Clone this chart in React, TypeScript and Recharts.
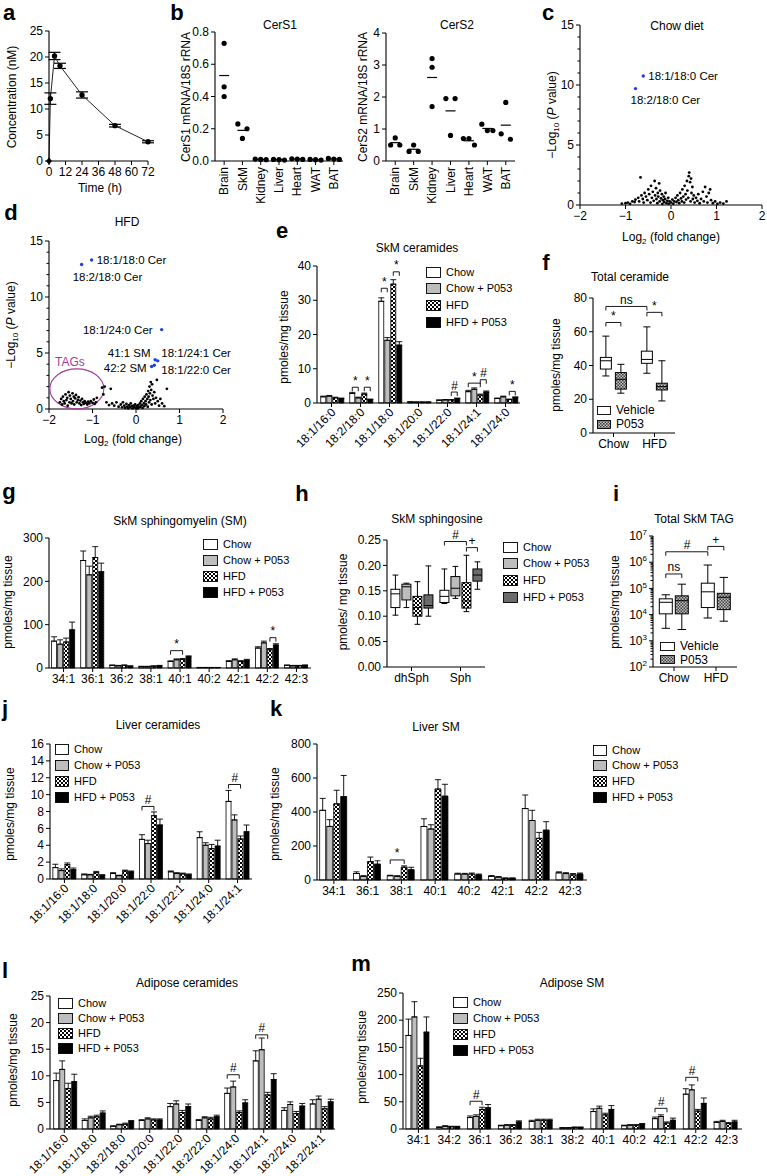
import React from 'react';
import { BarChart, Bar, ErrorBar, LineChart, Line, ScatterChart, Scatter, XAxis, YAxis } from 'recharts';

const FONT = '"Liberation Sans", Arial, Helvetica, sans-serif';
const INK = '#000';
const BLUE = '#1f3fdc';
const PURPLE = '#a03c9c';

// a - plasma level after one dose
const pkHours = [0, 1, 4, 8, 24, 48, 72];
const pkConc = [0, 12, 20.2, 18.3, 12.7, 6.8, 3.7];
const pkSem = [0, 1.1, 0.7, 0.5, 0.6, 0.25, 0.2];

// b - CerS expression, three mice per tissue
const tissues = ['Brain', 'SkM', 'Kidney', 'Liver', 'Heart', 'WAT', 'BAT'];
const cers1Mice = [
  [0.73, 0.46, 0.4], [0.23, 0.2, 0.14], [0.012, 0.008, 0.01], [0.01, 0.008, 0.006],
  [0.014, 0.01, 0.012], [0.008, 0.006, 0.01], [0.016, 0.012, 0.01],
];
const cers2Mice = [
  [0.72, 0.5, 0.5], [0.5, 0.3, 0.3], [3.2, 2.93, 1.7], [1.95, 1.95, 0.8],
  [0.7, 0.7, 0.5], [1.15, 0.95, 0.95], [1.83, 0.85, 0.68],
];

// c / d - volcano plots [log2 fold change, -log10 p]
const chowCloud = [
  [-1.08, 0.12], [-1.0, 0.15], [-0.95, 0.2], [-0.9, 0.1], [-0.85, 0.3], [-0.8, 0.25], [-0.78, 0.45], [-0.72, 0.6],
  [-0.7, 0.3], [-0.67, 2.3], [-0.65, 0.8], [-0.62, 0.5], [-0.6, 0.2], [-0.58, 1.0], [-0.55, 0.7], [-0.52, 0.4],
  [-0.5, 1.3], [-0.48, 0.9], [-0.45, 0.2], [-0.44, 1.6], [-0.42, 0.6], [-0.4, 1.1], [-0.38, 0.35], [-0.36, 2.0],
  [-0.35, 0.8], [-0.33, 1.4], [-0.32, 0.5], [-0.3, 0.15], [-0.29, 1.0], [-0.28, 0.7], [-0.26, 1.8], [-0.25, 0.3],
  [-0.24, 1.2], [-0.22, 0.55], [-0.2, 0.9], [-0.19, 0.1], [-0.18, 0.4], [-0.16, 0.7], [-0.15, 0.25], [-0.13, 0.5],
  [-0.12, 1.0], [-0.1, 0.15], [-0.08, 0.35], [-0.06, 0.6], [-0.05, 0.1], [-0.03, 0.3], [0, 0.2], [0.03, 0.45],
  [0.05, 0.1], [0.07, 0.3], [0.1, 0.6], [0.12, 0.25], [0.14, 0.8], [0.16, 0.4], [0.18, 0.15], [0.2, 1.0],
  [0.22, 0.55], [0.24, 0.3], [0.25, 1.3], [0.27, 0.7], [0.29, 0.2], [0.3, 1.6], [0.32, 0.9], [0.33, 0.45],
  [0.35, 2.0], [0.36, 1.2], [0.38, 0.6], [0.39, 2.4], [0.4, 2.7], [0.42, 1.9], [0.43, 0.3], [0.44, 2.2],
  [0.45, 1.0], [0.47, 1.5], [0.48, 0.5], [0.5, 0.8], [0.52, 0.2], [0.55, 0.6], [0.58, 0.35], [0.6, 0.9],
  [0.63, 0.15], [0.66, 0.5], [0.7, 1.1], [0.72, 0.3], [0.75, 1.5], [0.78, 0.7], [0.8, 0.2], [0.83, 1.0],
  [0.86, 1.3], [0.88, 0.4], [0.92, 0.15], [0.97, 0.3], [1.02, 0.1], [1.08, 0.2], [1.15, 0.12], [1.22, 0.3],
];
const chowHits = [
  { x: -0.61, y: 10.75, label: '18:1/18:0 Cer' },
  { x: -0.78, y: 9.7, label: '18:2/18:0 Cer' },
];
const hfdCloud = [
  [-1.75, 0.6], [-1.72, 0.9], [-1.7, 0.4], [-1.68, 1.1], [-1.66, 0.7], [-1.64, 0.5], [-1.62, 1.3], [-1.6, 0.8],
  [-1.58, 1.0], [-1.57, 0.3], [-1.55, 1.5], [-1.53, 0.6], [-1.52, 1.2], [-1.5, 0.9], [-1.48, 0.5], [-1.46, 1.4],
  [-1.45, 0.7], [-1.43, 1.1], [-1.42, 0.4], [-1.4, 0.95], [-1.38, 1.25], [-1.36, 0.6], [-1.34, 0.8], [-1.32, 1.05],
  [-1.3, 0.5], [-1.28, 0.75], [-1.26, 0.35], [-1.24, 0.9], [-1.22, 0.6], [-1.2, 0.45], [-1.18, 0.7], [-1.15, 0.55],
  [-1.12, 0.4], [-1.1, 0.65], [-1.07, 0.5], [-1.04, 0.7], [-1.0, 0.55], [-0.97, 0.85], [-0.95, 0.45], [-0.92, 0.6],
  [-0.9, 1.0], [-0.78, 1.9], [-0.75, 1.3], [-0.72, 2.0], [-0.68, 0.6], [-0.62, 0.35], [-0.58, 1.8], [-0.55, 0.5],
  [-0.5, 0.3], [-0.45, 0.6], [-0.4, 0.2], [-0.35, 0.4], [-0.32, 0.15], [-0.3, 0.6], [-0.27, 0.3], [-0.25, 0.1],
  [-0.22, 0.45], [-0.2, 0.2], [-0.18, 0.05], [-0.16, 0.35], [-0.14, 0.15], [-0.12, 0.5], [-0.1, 0.25], [-0.08, 0.05],
  [-0.06, 0.3], [-0.04, 0.15], [-0.02, 0.4], [0, 0.1], [0.02, 0.25], [0.04, 0.05], [0.05, 0.35], [0.07, 0.15],
  [0.09, 0.5], [0.1, 0.2], [0.12, 0.7], [0.13, 0.35], [0.15, 0.1], [0.16, 0.9], [0.18, 0.5], [0.19, 0.25],
  [0.2, 1.1], [0.22, 0.7], [0.23, 0.4], [0.24, 1.3], [0.26, 0.9], [0.27, 0.2], [0.28, 1.6], [0.29, 1.1],
  [0.3, 0.6], [0.31, 2.0], [0.32, 1.4], [0.33, 0.8], [0.34, 2.4], [0.35, 1.7], [0.36, 0.4], [0.37, 2.2],
  [0.38, 1.2], [0.4, 0.9], [0.42, 1.5], [0.44, 0.5], [0.46, 1.0], [0.48, 2.6], [0.5, 0.7], [0.53, 0.3],
  [0.56, 0.9], [0.6, 0.5], [0.65, 0.25], [0.71, 1.8],
];
const hfdHits = [
  { x: -1.02, y: 13.3, label: '18:1/18:0 Cer' },
  { x: -1.25, y: 12.9, label: '18:2/18:0 Cer' },
  { x: 0.59, y: 7.09, label: '18:1/24:0 Cer' },
  { x: 0.44, y: 4.4, label: '41:1 SM' },
  { x: 0.5, y: 4.3, label: '18:1/24:1 Cer' },
  { x: 0.36, y: 3.8, label: '42:2 SM' },
  { x: 0.42, y: 3.9, label: '18:1/22:0 Cer' },
];
const tagCluster = [{ x: -1.36, y: 1.8 }];

// groups used in e, g, h, j-m
const groupNames = ['Chow', 'Chow + P053', 'HFD', 'HFD + P053'];

// e - SkM ceramides
const eCats = ['18:1/16:0', '18:2/18:0', '18:1/18:0', '18:1/20:0', '18:1/22:0', '18:1/24:1', '18:1/24:0'];
const eMean = [
  [1.8, 2.8, 29.7, 0.3, 0.8, 3.3, 1.3],
  [2.0, 1.5, 18.3, 0.25, 0.9, 4.0, 1.8],
  [1.5, 2.6, 34.7, 0.25, 0.9, 2.3, 1.0],
  [1.3, 1.0, 16.9, 0.25, 1.3, 3.2, 1.6],
];
const eSem = [
  [0.2, 0.3, 1.0, 0.05, 0.1, 0.4, 0.15],
  [0.2, 0.2, 0.8, 0.05, 0.1, 0.4, 0.2],
  [0.2, 0.3, 1.3, 0.05, 0.1, 0.3, 0.15],
  [0.15, 0.15, 1.0, 0.05, 0.15, 0.3, 0.2],
];
const eSig = [
  { cat: '18:2/18:0', a: 0, b: 1, at: 4.6, mark: '*' },
  { cat: '18:2/18:0', a: 2, b: 3, at: 4.6, mark: '*' },
  { cat: '18:1/18:0', a: 0, b: 1, at: 33.5, mark: '*' },
  { cat: '18:1/18:0', a: 2, b: 3, at: 38.3, mark: '*' },
  { cat: '18:1/22:0', a: 2, b: 3, at: 3.2, mark: '#' },
  { cat: '18:1/24:1', a: 0, b: 2, at: 5.8, mark: '*' },
  { cat: '18:1/24:1', a: 2, b: 3, at: 6.8, mark: '#' },
  { cat: '18:1/24:0', a: 2, b: 3, at: 3.4, mark: '*' },
];

// f - total ceramide, boxes [min, q1, median, q3, max]
const fCats = ['Chow', 'HFD'];
const fBoxes = [
  [[33.8, 37.9, 42.8, 44.8, 57.4], [35.4, 41.3, 43.6, 48.5, 62.9]],
  [[23.6, 26, 31.8, 35.8, 40.7], [19, 25.5, 27.5, 29.5, 42.8]],
];
const fSig = [
  { cat: 'Chow', a: 0, b: 0, catB: 'HFD', at: 75, mark: 'ns' },
  { cat: 'Chow', a: 0, b: 1, at: 65.5, mark: '*' },
  { cat: 'HFD', a: 0, b: 1, at: 71.5, mark: '*' },
];

// g - SkM sphingomyelin
const gCats = ['34:1', '36:1', '36:2', '38:1', '40:1', '40:2', '42:1', '42:2', '42:3'];
const gMean = [
  [62, 248, 6, 3, 15, 1, 15, 46, 6],
  [55, 215, 5, 3, 19, 1, 19, 58, 5],
  [60, 255, 6, 4, 20, 1, 15, 42, 5],
  [88, 222, 4, 5, 26, 1, 18, 53, 6],
];
const gSem = [
  [10, 22, 1, 1, 1.5, 0.3, 2, 3, 1],
  [10, 20, 1, 1, 2, 0.3, 2, 4, 1],
  [9, 25, 1, 1, 2, 0.3, 2, 3, 1],
  [18, 20, 1, 1, 2, 0.3, 2, 3, 1],
];
const gSig = [
  { cat: '40:1', a: 0, b: 2, at: 40, mark: '*' },
  { cat: '42:2', a: 2, b: 3, at: 70, mark: '*' },
];

// h - SkM sphingosine
const hCats = ['dhSph', 'Sph'];
const hBoxes = [
  [[0.102, 0.117, 0.144, 0.153, 0.181], [0.125, 0.127, 0.139, 0.151, 0.193]],
  [[0.117, 0.132, 0.158, 0.163, 0.165], [0.135, 0.14, 0.155, 0.178, 0.198]],
  [[0.084, 0.1, 0.117, 0.139, 0.168], [0.109, 0.116, 0.13, 0.166, 0.22]],
  [[0.1, 0.116, 0.121, 0.142, 0.199], [0.153, 0.169, 0.181, 0.193, 0.207]],
];
const hSig = [
  { cat: 'Sph', a: 0, b: 2, at: 0.247, mark: '#' },
  { cat: 'Sph', a: 2, b: 3, at: 0.235, mark: '+' },
];

// i - total SkM TAG (pmoles/mg)
const iCats = ['Chow', 'HFD'];
const iBoxes = [
  [[3000, 10700, 29500, 40000, 57000], [7400, 18600, 74000, 158000, 780000]],
  [[2700, 10700, 34000, 52000, 145000], [5600, 15500, 46000, 65000, 263000]],
];
const iSig = [
  { cat: 'Chow', a: 0, b: 1, at: 355000, mark: 'ns' },
  { cat: 'Chow', a: 0, b: 0, catB: 'HFD', at: 2500000, mark: '#' },
  { cat: 'HFD', a: 0, b: 1, at: 4000000, mark: '+' },
];
const iDecades = [2, 3, 4, 5, 6, 7];

// j - liver ceramides
const jCats = ['18:1/16:0', '18:1/18:0', '18:1/20:0', '18:1/22:0', '18:1/22:1', '18:1/24:0', '18:1/24:1'];
const jMean = [
  [1.35, 0.5, 0.65, 4.7, 0.85, 4.9, 9.2],
  [1.0, 0.5, 0.4, 4.2, 0.65, 4.0, 7.0],
  [1.7, 0.75, 0.95, 7.5, 0.6, 3.6, 4.75],
  [1.1, 0.45, 0.85, 6.4, 0.5, 3.9, 5.6],
];
const jSem = [
  [0.4, 0.1, 0.1, 0.55, 0.1, 0.7, 1.3],
  [0.2, 0.05, 0.05, 0.4, 0.1, 0.3, 0.6],
  [0.2, 0.15, 0.1, 0.45, 0.1, 0.5, 0.35],
  [0.2, 0.05, 0.1, 0.7, 0.1, 0.7, 0.8],
];
const jSig = [
  { cat: '18:1/22:0', a: 0, b: 2, at: 8.6, mark: '#' },
  { cat: '18:1/24:1', a: 0, b: 2, at: 11.2, mark: '#' },
];

// k - liver SM
const kCats = ['34:1', '36:1', '38:1', '40:1', '40:2', '42:1', '42:2', '42:3'];
const kMean = [
  [410, 38, 25, 315, 35, 22, 420, 42],
  [315, 22, 22, 300, 35, 17, 350, 38],
  [448, 108, 75, 535, 35, 10, 245, 30],
  [490, 93, 60, 493, 30, 10, 293, 35],
];
const kSem = [
  [70, 10, 3, 45, 5, 4, 80, 6],
  [40, 3, 3, 25, 4, 3, 60, 5],
  [80, 27, 8, 55, 6, 2, 35, 8],
  [125, 20, 15, 70, 5, 2, 50, 6],
];
const kSig = [{ cat: '38:1', a: 0, b: 2, at: 118, mark: '*' }];

// l - adipose ceramides
const lCats = ['18:1/16:0', '18:1/18:0', '18:2/18:0', '18:1/20:0', '18:1/22:0', '18:2/22:0', '18:1/24:0', '18:1/24:1', '18:2/24:0', '18:2/24:1'];
const lMean = [
  [9.1, 1.6, 0.5, 1.6, 4.2, 1.6, 6.7, 12.8, 3.5, 4.7],
  [11.2, 2.1, 0.8, 1.9, 4.7, 2.1, 7.9, 14.9, 4.6, 5.6],
  [7.6, 2.3, 0.9, 1.7, 3.1, 1.9, 3.1, 6.4, 2.9, 3.8],
  [8.9, 3.0, 1.4, 1.7, 4.2, 2.3, 4.9, 9.3, 4.3, 5.1],
];
const lSem = [
  [1.4, 0.3, 0.1, 0.15, 0.6, 0.2, 1.0, 1.9, 0.5, 0.8],
  [1.6, 0.3, 0.1, 0.2, 0.6, 0.2, 1.1, 2.2, 0.5, 0.6],
  [1.0, 0.3, 0.2, 0.2, 0.4, 0.3, 0.3, 0.5, 0.4, 0.4],
  [1.4, 0.4, 0.2, 0.2, 0.5, 0.3, 0.6, 1.1, 0.5, 0.5],
];
const lSig = [
  { cat: '18:1/24:0', a: 0, b: 2, at: 10.2, mark: '#' },
  { cat: '18:1/24:1', a: 0, b: 2, at: 17.7, mark: '#' },
];

// m - adipose SM
const mCats = ['34:1', '34:2', '36:1', '36:2', '38:1', '38:2', '40:1', '40:2', '42:1', '42:2', '42:3'];
const mMean = [
  [172, 3, 21, 6, 14, 2, 32, 6, 19, 64, 12],
  [206, 5, 23, 7, 16, 2, 38, 7, 23, 72, 14],
  [116, 4, 36, 7, 16, 3, 26, 7, 11, 33, 10],
  [178, 4, 39, 13, 16, 3, 36, 9, 16, 47, 13],
];
const mSem = [
  [30, 1, 3, 1, 2, 0.5, 5, 1, 3, 10, 2],
  [28, 1, 3, 1, 2, 0.5, 4, 1, 3, 9, 2],
  [14, 1, 4, 1, 2, 0.5, 3, 1, 2, 3, 2],
  [28, 1, 6, 2, 2, 0.5, 7, 1, 4, 10, 3],
];
const mSig = [
  { cat: '36:1', a: 0, b: 2, at: 51, mark: '#' },
  { cat: '42:1', a: 0, b: 2, at: 38, mark: '#' },
  { cat: '42:2', a: 0, b: 2, at: 95, mark: '#' },
];

// ---------- styling helpers ----------
const AX = { stroke: INK, strokeWidth: 1.1 };
const TXT = { fontFamily: FONT, fontSize: 12, fill: INK };
const BAR_FILL = ['#fff', '#bdbdbd', 'url(#chk)', '#000'];
const noTick = { tickSize: 0, tickMargin: 0, tickLine: false, axisLine: AX, interval: 0 as const };

const yTick = (fmt?: (v: number) => any, isMajor?: (v: number) => boolean) => (p: any) => {
  const v = p.payload.value;
  const major = isMajor ? isMajor(v) : true;
  return (
    <g>
      <line x1={p.x - (major ? 4 : 2.5)} x2={p.x} y1={p.y} y2={p.y} stroke={INK} strokeWidth={1} />
      {major && (
        <text x={p.x - 6} y={p.y} dy="0.35em" textAnchor="end" {...TXT}>{fmt ? fmt(v) : v}</text>
      )}
    </g>
  );
};

const xTick = (mode: 'flat' | 'slant' | 'up', fmt?: (v: any) => any) => (p: any) => {
  const { x, y } = p;
  const s = fmt ? fmt(p.payload.value) : p.payload.value;
  let label;
  if (mode === 'slant') {
    label = <text x={x + 2} y={y + 7} dy="0.35em" textAnchor="end" transform={`rotate(-45 ${x + 2} ${y + 7})`} {...TXT}>{s}</text>;
  } else if (mode === 'up') {
    label = <text x={x} y={y + 6} dy="0.35em" textAnchor="end" transform={`rotate(-90 ${x} ${y + 6})`} {...TXT}>{s}</text>;
  } else {
    label = <text x={x} y={y + 15} textAnchor="middle" {...TXT}>{s}</text>;
  }
  return (
    <g>
      <line x1={x} x2={x} y1={y} y2={y + 4} stroke={INK} strokeWidth={1} />
      {label}
    </g>
  );
};

const minus = (v: number) => (v < 0 ? `\u2212${-v}` : `${v}`);

function sigMark(s: any, i: number, x0: number, w: number, gap: number, band: number, cats: string[], P: (v: number) => number) {
  const xa = x0 + s.a * (w + gap) + w / 2;
  const shift = s.catB ? (cats.indexOf(s.catB) - cats.indexOf(s.cat)) * band : 0;
  const xb = x0 + s.b * (w + gap) + w / 2 + shift;
  const yl = P(s.at);
  return (
    <g key={`sig${i}`}>
      <path d={`M${xa},${yl + 4}V${yl}H${xb}V${yl + 4}`} fill="none" stroke={INK} strokeWidth={0.9} />
      <text x={(xa + xb) / 2} y={yl - 2.5} textAnchor="middle" fontSize={12} fontFamily={FONT}
        fontStyle={s.mark === '#' ? 'italic' : 'normal'}>{s.mark}</text>
    </g>
  );
}

// ---------- page text ----------
const Label = ({ x, y, rot, size = 12, bold, color, children }: any) => (
  <div style={{
    position: 'absolute', left: x, top: y, fontSize: size, lineHeight: 1, whiteSpace: 'nowrap',
    fontWeight: bold ? 700 : 400, color: color || INK,
    transform: `translate(-50%, -50%)${rot ? ' rotate(-90deg)' : ''}`,
  }}>{children}</div>
);

const Letter = ({ x, y, children }: any) => <Label x={x} y={y} size={22} bold>{children}</Label>;

const Key = ({ x, y, labels, fills, step = 16.5, w = 15, h = 11, size = 11 }: any) => (
  <>
    {labels.map((lab: string, i: number) => (
      <div key={lab} style={{
        position: 'absolute', left: x, top: y + i * step - h / 2, height: h, display: 'flex',
        alignItems: 'center', whiteSpace: 'nowrap', fontSize: size, lineHeight: 1,
      }}>
        <svg width={w} height={h} style={{ marginRight: 5, flex: 'none' }}>
          <rect x={0.5} y={0.5} width={w - 1} height={h - 1} fill={fills[i]} stroke={INK} strokeWidth={0.9} />
        </svg>
        <span>{lab}</span>
      </div>
    ))}
  </>
);

const Patterns = () => (
  <svg width={0} height={0} style={{ position: 'absolute' }}>
    <defs>
      <pattern id="chk" width={4} height={4} patternUnits="userSpaceOnUse">
        <rect width={4} height={4} fill="#fff" />
        <rect width={2} height={2} fill="#000" />
        <rect x={2} y={2} width={2} height={2} fill="#000" />
      </pattern>
      <pattern id="chk2" width={3} height={3} patternUnits="userSpaceOnUse">
        <rect width={3} height={3} fill="#c8c8c8" />
        <path d="M0,0h1.5v1.5h-1.5zM1.5,1.5h1.5v1.5h-1.5z" fill="#3c3c3c" />
      </pattern>
    </defs>
  </svg>
);

// ---------- panels ----------
function PkPanel({ plot }: any) {
  const [l, t, r, b] = plot;
  const wy = 34, hx = 24, mt = 8, mr = 8;
  const rows = pkHours.map((h, i) => ({ h, c: pkConc[i], e: pkSem[i] }));
  const dot = (p: any) => p.index === 0
    ? <path key={`d${p.index}`} d={`M${p.cx},${p.cy - 3.5}l3,3.5l-3,3.5l-3,-3.5z`} fill={INK} />
    : <circle key={`d${p.index}`} cx={p.cx} cy={p.cy} r={2.7} fill={INK} />;
  return (
    <div style={{ position: 'absolute', left: l - wy, top: t - mt }}>
      <LineChart width={r - l + wy + mr} height={b - t + mt + hx} data={rows} margin={{ top: mt, right: mr, left: 0, bottom: 0 }}>
        <XAxis type="number" dataKey="h" domain={[0, 72]} ticks={[0, 12, 24, 36, 48, 60, 72]} height={hx} {...noTick} tick={xTick('flat')} />
        <YAxis domain={[0, 25]} ticks={[0, 5, 10, 15, 20, 25]} width={wy} {...noTick} tick={yTick()} />
        <Line dataKey="c" stroke="#222" strokeWidth={1} dot={dot} isAnimationActive={false}>
          <ErrorBar dataKey="e" width={6} stroke={INK} strokeWidth={1.2} direction="y" />
        </Line>
      </LineChart>
    </div>
  );
}

function swarm(vals: number[], tol: number) {
  const order = vals.map((v, i) => i).sort((p, q) => vals[q] - vals[p]);
  const groups: number[][] = [];
  order.forEach((i) => {
    const g = groups[groups.length - 1];
    if (g && vals[g[g.length - 1]] - vals[i] < tol) g.push(i);
    else groups.push([i]);
  });
  const spread: Record<number, number[]> = { 1: [0], 2: [-0.25, 0.25], 3: [-0.3, 0, 0.3] };
  const out: { v: number; off: number }[] = [];
  groups.forEach((g) => g.forEach((i, k) => out.push({ v: vals[i], off: spread[g.length][k] })));
  return out;
}

function ExprPanel({ plot, mice, yMax, ticks, fmt }: any) {
  const [l, t, r, b] = plot;
  const wy = 30, hx = 44, mt = 8, mr = 4;
  const pts: any[] = [];
  mice.forEach((vals: number[], ti: number) => swarm(vals, yMax * 0.05).forEach((d) => pts.push({ x: ti + d.off, y: d.v })));
  const means = mice.map((vals: number[], ti: number) => ({ x: ti, y: vals.reduce((s, v) => s + v, 0) / vals.length }));
  return (
    <div style={{ position: 'absolute', left: l - wy, top: t - mt }}>
      <ScatterChart width={r - l + wy + mr} height={b - t + mt + hx} margin={{ top: mt, right: mr, left: 0, bottom: 0 }}>
        <XAxis type="number" dataKey="x" domain={[-0.5, 6.5]} ticks={[0, 1, 2, 3, 4, 5, 6]} height={hx} {...noTick}
          tick={xTick('up', (v: number) => tissues[v])} />
        <YAxis type="number" dataKey="y" domain={[0, yMax]} ticks={ticks} width={wy} {...noTick} tick={yTick(fmt)} />
        <Scatter data={means} isAnimationActive={false}
          shape={(p: any) => <line x1={p.cx - 5} x2={p.cx + 5} y1={p.cy} y2={p.cy} stroke={INK} strokeWidth={1.2} />} />
        <Scatter data={pts} isAnimationActive={false}
          shape={(p: any) => <circle cx={p.cx} cy={p.cy} r={2.6} fill={INK} />} />
      </ScatterChart>
    </div>
  );
}

const hitOffset: Record<string, { dx: number; dy: number; anchor: string }> = {
  'c18:1/18:0 Cer': { dx: 5, dy: 0, anchor: 'start' },
  'c18:2/18:0 Cer': { dx: -5, dy: 11, anchor: 'start' },
  'd18:1/18:0 Cer': { dx: 5, dy: 0, anchor: 'start' },
  'd18:2/18:0 Cer': { dx: -9, dy: 12.5, anchor: 'start' },
  'd18:1/24:0 Cer': { dx: -9, dy: 0, anchor: 'end' },
  'd41:1 SM': { dx: -4.5, dy: -6.5, anchor: 'end' },
  'd18:1/24:1 Cer': { dx: 3.5, dy: -7.5, anchor: 'start' },
  'd42:2 SM': { dx: -5, dy: 1.5, anchor: 'end' },
  'd18:1/22:0 Cer': { dx: 7, dy: 5, anchor: 'start' },
};

function Volcano({ plot, cloud, hits, tags, id, mr = 5 }: any) {
  const [l, t, r, b] = plot;
  const wy = 30, hx = 26, mt = 8;
  const cloudPts = cloud.map(([x, y]: number[]) => ({ x, y }));
  const hitShape = (p: any) => {
    const lab = p.payload ? p.payload.label : p.label;
    const o = hitOffset[id + lab];
    return (
      <g>
        <circle cx={p.cx} cy={p.cy} r={1.7} fill={BLUE} />
        <text x={p.cx + o.dx} y={p.cy + o.dy} dy="0.35em" textAnchor={o.anchor} fontSize={11.5} fontFamily={FONT} fill={INK}>{lab}</text>
      </g>
    );
  };
  const tagShape = (p: any) => (
    <g>
      <ellipse cx={p.cx} cy={p.cy} rx={27} ry={20} fill="none" stroke={PURPLE} strokeWidth={1.1} />
      <text x={p.cx - 7} y={p.cy - 27} dy="0.35em" textAnchor="middle" fontSize={12} fontFamily={FONT} fill={PURPLE}>TAGs</text>
    </g>
  );
  return (
    <div style={{ position: 'absolute', left: l - wy, top: t - mt }}>
      <ScatterChart width={r - l + wy + mr} height={b - t + mt + hx} margin={{ top: mt, right: mr, left: 0, bottom: 0 }}>
        <XAxis type="number" dataKey="x" domain={[-2, 2]} ticks={[-2, -1, 0, 1, 2]} height={hx} {...noTick} tick={xTick('flat', minus)} />
        <YAxis type="number" dataKey="y" domain={[0, 15]} ticks={[0, 1, 2, 3, 4, 5, 6, 7, 8, 9, 10, 11, 12, 13, 14, 15]}
          width={wy} {...noTick} tick={yTick(undefined, (v) => v % 5 === 0)} />
        {tags && <Scatter data={tags} isAnimationActive={false} shape={tagShape} />}
        <Scatter data={cloudPts} isAnimationActive={false} shape={(p: any) => <circle cx={p.cx} cy={p.cy} r={1.4} fill={INK} />} />
        <Scatter data={hits} isAnimationActive={false} shape={hitShape} />
      </ScatterChart>
    </div>
  );
}

function BarPanel({ plot, cats, mean, sem, sig, yMax, ticks, catGap, slant }: any) {
  const [l, t, r, b] = plot;
  const wy = 40, hx = slant ? 64 : 24, mt = 12, mr = 6, gap = 1;
  const band = (r - l) / cats.length;
  const rows = cats.map((name: string, ci: number) => {
    const row: any = { name };
    mean.forEach((s: number[], si: number) => {
      row[`v${si}`] = s[ci];
      row[`e${si}`] = [0, sem[si][ci]];
    });
    return row;
  });
  const first = (p: any) => {
    const { x, y, width, height, payload } = p;
    const k = height / payload.v0;
    const P = (v: number) => y + height - v * k;
    return (
      <g>
        <rect x={x} y={y} width={width} height={height} fill={BAR_FILL[0]} stroke={INK} strokeWidth={0.8} />
        {sig.filter((s: any) => s.cat === payload.name).map((s: any, i: number) => sigMark(s, i, x, width, gap, band, cats, P))}
      </g>
    );
  };
  return (
    <div style={{ position: 'absolute', left: l - wy, top: t - mt }}>
      <BarChart width={r - l + wy + mr} height={b - t + mt + hx} data={rows} margin={{ top: mt, right: mr, left: 0, bottom: 0 }}
        barGap={gap} barCategoryGap={catGap}>
        <XAxis dataKey="name" height={hx} {...noTick} tick={xTick(slant ? 'slant' : 'flat')} />
        <YAxis domain={[0, yMax]} ticks={ticks} width={wy} {...noTick} tick={yTick()} />
        {mean.map((_: any, si: number) => (
          <Bar key={si} dataKey={`v${si}`} fill={BAR_FILL[si]} stroke={INK} strokeWidth={0.8} isAnimationActive={false}
            shape={si === 0 ? first : undefined}>
            <ErrorBar dataKey={`e${si}`} width={3} stroke={INK} strokeWidth={0.9} direction="y" />
          </Bar>
        ))}
      </BarChart>
    </div>
  );
}

function BoxPanel({ plot, cats, boxes, fills, sig, domain, ticks, catGap, gap, tf = (v: number) => v, yFmt, isMajor }: any) {
  const [l, t, r, b] = plot;
  const wy = 40, hx = 24, mt = 14, mr = 4;
  const band = (r - l) / cats.length;
  const rows = cats.map((name: string, ci: number) => {
    const row: any = { name };
    boxes.forEach((s: number[][], si: number) => {
      const st = s[ci].map(tf);
      row[`hi${si}`] = st[4];
      row[`st${si}`] = st;
    });
    return row;
  });
  const shape = (si: number) => (p: any) => {
    const { x, y, width, height, payload } = p;
    const st = payload[`st${si}`];
    const k = height / (st[4] - domain[0]);
    const P = (v: number) => y + height - (v - domain[0]) * k;
    const cx = x + width / 2;
    const cw = width * 0.32;
    return (
      <g>
        <path d={`M${cx},${P(st[4])}V${P(st[3])}M${cx},${P(st[1])}V${P(st[0])}M${cx - cw},${P(st[4])}H${cx + cw}M${cx - cw},${P(st[0])}H${cx + cw}`}
          stroke={INK} strokeWidth={1} fill="none" />
        <rect x={x} y={P(st[3])} width={width} height={P(st[1]) - P(st[3])} fill={fills[si]} stroke={INK} strokeWidth={1} />
        <line x1={x} x2={x + width} y1={P(st[2])} y2={P(st[2])} stroke={INK} strokeWidth={1} />
        {si === 0 && sig.filter((s: any) => s.cat === payload.name)
          .map((s: any, i: number) => sigMark(s, i, x, width, gap, band, cats, (v) => P(tf(v))))}
      </g>
    );
  };
  return (
    <div style={{ position: 'absolute', left: l - wy, top: t - mt }}>
      <BarChart width={r - l + wy + mr} height={b - t + mt + hx} data={rows} margin={{ top: mt, right: mr, left: 0, bottom: 0 }}
        barGap={gap} barCategoryGap={catGap}>
        <XAxis dataKey="name" height={hx} {...noTick} tick={xTick('flat')} />
        <YAxis domain={domain} ticks={ticks} width={wy} {...noTick} tick={yTick(yFmt, isMajor)} />
        {boxes.map((_: any, si: number) => (
          <Bar key={si} dataKey={`hi${si}`} isAnimationActive={false} shape={shape(si)} />
        ))}
      </BarChart>
    </div>
  );
}

const logTicks = iDecades.flatMap((d) => (d < 7 ? [d, ...[2, 3, 4, 5, 6, 7, 8, 9].map((k) => d + Math.log10(k))] : [d]));
const pow10 = (v: number) => (
  <>
    <tspan>10</tspan>
    <tspan dy={-5} fontSize={8}>{Math.round(v)}</tspan>
  </>
);

const sub = (s: string) => <span style={{ fontSize: 8, verticalAlign: -3 }}>{s}</span>;

export default function App() {
  const pmol = 'pmoles/mg tissue';
  return (
    <div style={{
      position: 'absolute', left: 0, top: 0, width: 767, height: 1176, background: '#fff',
      fontFamily: FONT, color: INK, overflow: 'hidden',
    }}>
      <Patterns />

      {/* a */}
      <Letter x={9} y={13}>a</Letter>
      <PkPanel plot={[49, 31, 148, 161]} />
      <Label x={12} y={97} rot>Concentration (nM)</Label>
      <Label x={100} y={188}>Time (h)</Label>

      {/* b */}
      <Letter x={177} y={13}>b</Letter>
      <Label x={280} y={25}>CerS1</Label>
      <Label x={457} y={25}>CerS2</Label>
      <ExprPanel plot={[215, 32, 343, 161]} mice={cers1Mice} yMax={0.8} ticks={[0, 0.2, 0.4, 0.6, 0.8]} fmt={(v: number) => v.toFixed(1)} />
      <ExprPanel plot={[386, 33, 515, 161]} mice={cers2Mice} yMax={4} ticks={[0, 1, 2, 3, 4]} />
      <Label x={186} y={97} rot>CerS1 mRNA/18S rRNA</Label>
      <Label x={363} y={97} rot>CerS2 mRNA/18S rRNA</Label>

      {/* c */}
      <Letter x={548} y={13}>c</Letter>
      <Label x={677} y={26}>Chow diet</Label>
      <Volcano id="c" plot={[580, 25, 762, 205]} cloud={chowCloud} hits={chowHits} />
      <Label x={553} y={115} rot>{'\u2212'}Log{sub('10')} (<i>P</i> value)</Label>
      <Label x={671} y={238}>Log{sub('2')} (fold change)</Label>

      {/* d */}
      <Letter x={11} y={213}>d</Letter>
      <Label x={127} y={222}>HFD</Label>
      <Volcano id="d" plot={[49, 241, 223, 409]} cloud={hfdCloud} hits={hfdHits} tags={tagCluster} mr={18} />
      <Label x={12} y={325} rot>{'\u2212'}Log{sub('10')} (<i>P</i> value)</Label>
      <Label x={133} y={440}>Log{sub('2')} (fold change)</Label>

      {/* e */}
      <Letter x={282} y={231}>e</Letter>
      <Label x={417} y={248}>SkM ceramides</Label>
      <BarPanel plot={[317, 266, 520, 403]} cats={eCats} mean={eMean} sem={eSem} sig={eSig} yMax={40} ticks={[0, 10, 20, 30, 40]} catGap="13%" slant />
      <Label x={284} y={337} rot>{pmol}</Label>
      <Key x={426} y={272} labels={groupNames} fills={BAR_FILL} step={16.7} />

      {/* f */}
      <Letter x={546} y={263}>f</Letter>
      <Label x={630} y={277}>Total ceramide</Label>
      <BoxPanel plot={[593, 298, 675, 433]} cats={fCats} boxes={fBoxes} fills={['#fff', 'url(#chk2)']} sig={fSig}
        domain={[0, 80]} ticks={[0, 20, 40, 60, 80]} catGap="18%" gap={4} />
      <Label x={556} y={365} rot>{pmol}</Label>
      <Key x={597} y={410} labels={['Vehicle', 'P053']} fills={['#fff', 'url(#chk2)']} step={14} w={14} h={9} size={12} />

      {/* g */}
      <Letter x={9} y={492}>g</Letter>
      <Label x={180} y={521}>SkM sphingomyelin (SM)</Label>
      <BarPanel plot={[49, 538, 311, 668]} cats={gCats} mean={gMean} sem={gSem} sig={gSig} yMax={300} ticks={[0, 100, 200, 300]} catGap="9%" />
      <Label x={8} y={602} rot>{pmol}</Label>
      <Key x={203} y={544} labels={groupNames} fills={BAR_FILL} step={16} />

      {/* h */}
      <Letter x={302} y={494}>h</Letter>
      <Label x={437} y={519}>SkM sphingosine</Label>
      <BoxPanel plot={[387, 540, 485, 667]} cats={hCats} boxes={hBoxes} fills={['#fff', '#bdbdbd', 'url(#chk)', '#6b6b6b']} sig={hSig}
        domain={[0, 0.25]} ticks={[0, 0.05, 0.1, 0.15, 0.2, 0.25]} catGap="8%" gap={2} yFmt={(v: number) => v.toFixed(2)} />
      <Label x={343} y={602} rot>pmoles/ mg tissue</Label>
      <Key x={503} y={547} labels={groupNames} fills={['#fff', '#bdbdbd', 'url(#chk)', '#6b6b6b']} step={16.7} />

      {/* i */}
      <Letter x={616} y={494}>i</Letter>
      <Label x={694} y={519}>Total SkM TAG</Label>
      <BoxPanel plot={[653, 536, 737, 667]} cats={iCats} boxes={iBoxes} fills={['#fff', 'url(#chk2)']} sig={iSig}
        domain={[2, 7]} ticks={logTicks} catGap="15%" gap={3} tf={Math.log10}
        yFmt={pow10} isMajor={(v: number) => Math.abs(v - Math.round(v)) < 1e-9} />
      <Label x={615} y={602} rot>{pmol}</Label>
      <Key x={660} y={646} labels={['Vehicle', 'P053']} fills={['#fff', 'url(#chk2)']} step={13.5} h={9} size={12} />

      {/* j */}
      <Letter x={5} y={709}>j</Letter>
      <Label x={158} y={725}>Liver ceramides</Label>
      <BarPanel plot={[50, 744, 252, 879]} cats={jCats} mean={jMean} sem={jSem} sig={jSig} yMax={16}
        ticks={[0, 2, 4, 6, 8, 10, 12, 14, 16]} catGap="10%" slant />
      <Label x={10} y={814} rot>{pmol}</Label>
      <Key x={55} y={749} labels={groupNames} fills={BAR_FILL} step={16} h={11} w={14} />

      {/* k */}
      <Letter x={276} y={709}>k</Letter>
      <Label x={436} y={727}>Liver SM</Label>
      <BarPanel plot={[317, 744, 587, 880]} cats={kCats} mean={kMean} sem={kSem} sig={kSig} yMax={800}
        ticks={[0, 200, 400, 600, 800]} catGap="8%" />
      <Label x={275} y={814} rot>{pmol}</Label>
      <Key x={593} y={750} labels={groupNames} fills={BAR_FILL} step={15.9} w={14} />

      {/* l */}
      <Letter x={5} y={971}>l</Letter>
      <Label x={187} y={983}>Adipose ceramides</Label>
      <BarPanel plot={[50, 996, 335, 1129]} cats={lCats} mean={lMean} sem={lSem} sig={lSig} yMax={25}
        ticks={[0, 5, 10, 15, 20, 25]} catGap="13%" slant />
      <Label x={13} y={1060} rot>{pmol}</Label>
      <Key x={58} y={1003} labels={groupNames} fills={BAR_FILL} step={15} />

      {/* m */}
      <Letter x={361} y={964}>m</Letter>
      <Label x={572} y={983}>Adipose SM</Label>
      <BarPanel plot={[403, 993, 742, 1129]} cats={mCats} mean={mMean} sem={mSem} sig={mSig} yMax={250}
        ticks={[0, 50, 100, 150, 200, 250]} catGap="9.5%" />
      <Label x={362} y={1057} rot>{pmol}</Label>
      <Key x={453} y={1002} labels={groupNames} fills={BAR_FILL} step={16.3} />
    </div>
  );
}
